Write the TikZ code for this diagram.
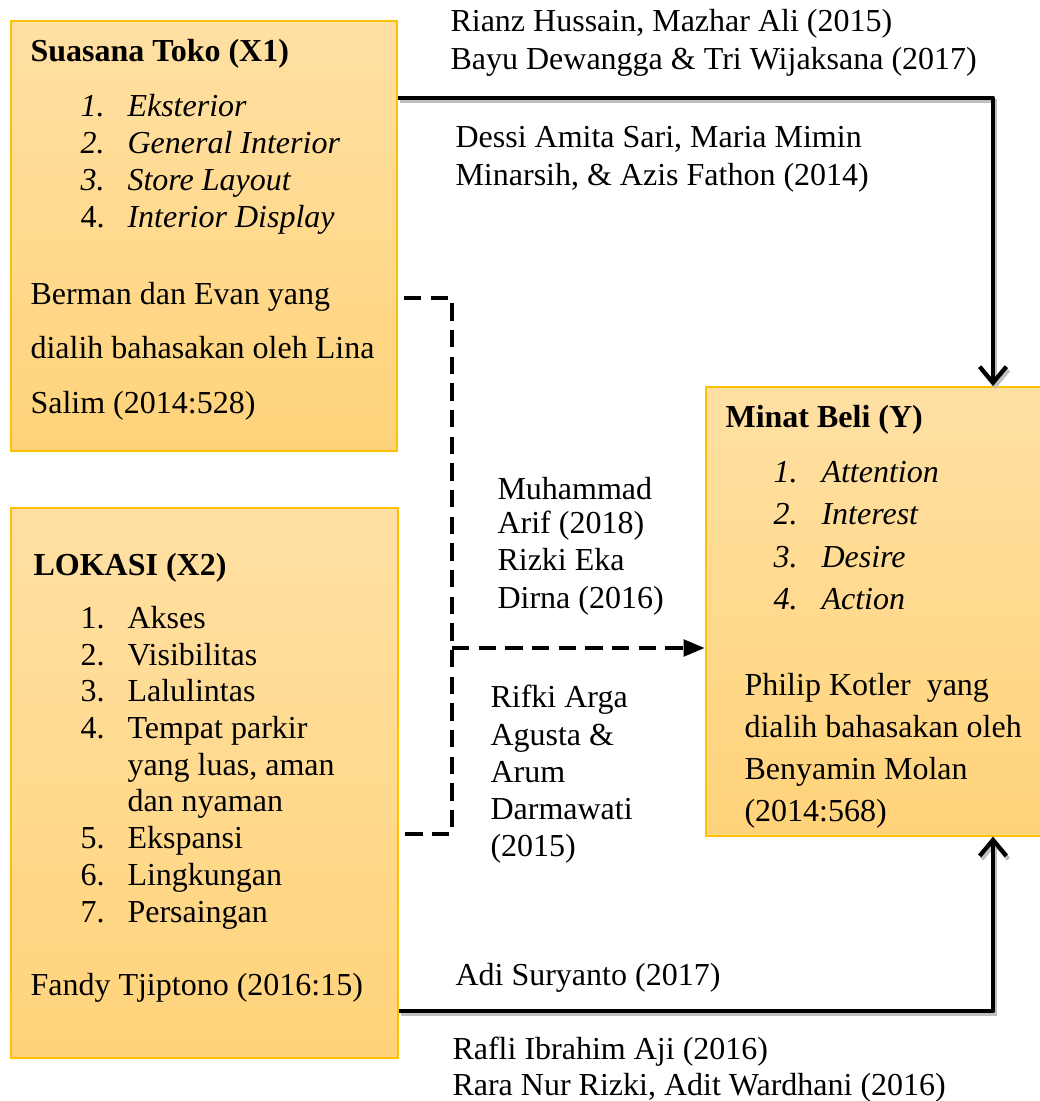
\documentclass[tikz,border=0pt]{standalone}
\usepackage{fontspec}
\setmainfont{Liberation Serif}
\usetikzlibrary{arrows.meta}
\definecolor{boxtop}{RGB}{255,224,163}
\definecolor{boxbot}{RGB}{255,211,122}
\definecolor{boxline}{RGB}{255,192,0}
\begin{document}
\begin{tikzpicture}[x=0.375pt,y=-0.375pt,
    every node/.style={inner sep=0pt,font=\fontsize{12}{14}\selectfont},
    txt/.style={anchor=base west},
    judul/.style={anchor=base west,font=\fontsize{12}{14}\selectfont\bfseries},
    miring/.style={anchor=base west,font=\fontsize{12}{14}\selectfont\itshape},
    kotak/.style={draw=boxline,line width=0.6pt,top color=boxtop,bottom color=boxbot,anchor=north west},
    panah/.style={line width=1.6pt,line join=round,-{Straight Barb[length=6pt,width=10pt,line width=1.6pt]},
        preaction={draw=black!25,line width=1.6pt,transform canvas={xshift=0.8pt,yshift=-1.2pt}}},
    putus/.style={line width=1.8pt,dash pattern=on 6.5pt off 3.5pt}]
    \useasboundingbox (0,0) rectangle (1040,1101);
    % kotak
    \node[kotak,minimum width=144.75pt,minimum height=161.25pt] (x1) at (10,20) {};
    \node[kotak,minimum width=145.125pt,minimum height=206.25pt] (x2) at (10,507) {};
    \node[kotak,minimum width=127.5pt,minimum height=168.375pt] (y) at (705,386) {};
    % isi X1
    \node[judul] (x1t) at (30,62) {Suasana Toko (X1)};
    \node[miring] (x1n1) at (80,117) {1.};
    \node[miring] (x1i1) at (127,117) {Eksterior};
    \node[miring] (x1n2) at (80,154) {2.};
    \node[miring] (x1i2) at (127,154) {General Interior};
    \node[miring] (x1n3) at (80,191) {3.};
    \node[miring] (x1i3) at (127,191) {Store Layout};
    \node[txt] (x1n4) at (80,228) {4.};
    \node[miring] (x1i4) at (127,228) {Interior Display};
    \node[txt] (x1s1) at (30,305) {Berman dan Evan yang};
    \node[txt] (x1s2) at (30,359) {dialih bahasakan oleh Lina};
    \node[txt] (x1s3) at (30,414) {Salim (2014:528)};
    % isi X2
    \node[judul] (x2t) at (33,575) {LOKASI (X2)};
    \node[txt] (x2n1) at (80,628) {1.};
    \node[txt] (x2i1) at (127,628) {Akses};
    \node[txt] (x2n2) at (80,665) {2.};
    \node[txt] (x2i2) at (127,665) {Visibilitas};
    \node[txt] (x2n3) at (80,701) {3.};
    \node[txt] (x2i3) at (127,701) {Lalulintas};
    \node[txt] (x2n4) at (80,738) {4.};
    \node[txt] (x2i4) at (127,738) {Tempat parkir};
    \node[txt] (x2i4b) at (127,775) {yang luas, aman};
    \node[txt] (x2i4c) at (127,811) {dan nyaman};
    \node[txt] (x2n5) at (80,848) {5.};
    \node[txt] (x2i5) at (127,848) {Ekspansi};
    \node[txt] (x2n6) at (80,885) {6.};
    \node[txt] (x2i6) at (127,885) {Lingkungan};
    \node[txt] (x2n7) at (80,922) {7.};
    \node[txt] (x2i7) at (127,922) {Persaingan};
    \node[txt] (x2s) at (30,995) {Fandy Tjiptono (2016:15)};
    % isi Y
    \node[judul] (yt) at (725,427) {Minat Beli (Y)};
    \node[miring] (yn1) at (773,482) {1.};
    \node[miring] (yi1) at (821,482) {Attention};
    \node[miring] (yn2) at (773,524) {2.};
    \node[miring] (yi2) at (821,524) {Interest};
    \node[miring] (yn3) at (773,567) {3.};
    \node[miring] (yi3) at (821,567) {Desire};
    \node[miring] (yn4) at (773,609) {4.};
    \node[miring] (yi4) at (821,609) {Action};
    \node[txt] (ys1) at (744,695) {Philip Kotler\ \ yang};
    \node[txt] (ys2) at (744,737) {dialih bahasakan oleh};
    \node[txt] (ys3) at (744,779) {Benyamin Molan};
    \node[txt] (ys4) at (744,821) {(2014:568)};
    % penghubung
    \draw[panah] (x1.east |- 0,98) -| (y.north -| 993,0);
    \draw[panah] (x2.east |- 0,1011) -| (y.south -| 993,0);
    \coordinate (ja) at (452,298);
    \coordinate (jb) at (452,834);
    \coordinate (jc) at (452,648);
    \draw[putus] (404,298) -- (ja) -- (jb) -- (400,834);
    \draw[putus,-{Triangle[length=8pt,width=6pt]}] (jc) -- (y.west |- jc);
    % sumber
    \node[txt] (r1) at (450,32) {Rianz Hussain, Mazhar Ali (2015)};
    \node[txt] (r2) at (450,70) {Bayu Dewangga \& Tri Wijaksana (2017)};
    \node[txt] (r3) at (455,148) {Dessi Amita Sari, Maria Mimin};
    \node[txt] (r4) at (455,186) {Minarsih, \& Azis Fathon (2014)};
    \node[txt] (m1) at (497,499) {Muhammad};
    \node[txt] (m2) at (497,533) {Arif (2018)};
    \node[txt] (m3) at (497,570) {Rizki Eka};
    \node[txt] (m4) at (497,608) {Dirna (2016)};
    \node[txt] (k1) at (490,707) {Rifki Arga};
    \node[txt] (k2) at (490,745) {Agusta \&};
    \node[txt] (k3) at (490,782) {Arum};
    \node[txt] (k4) at (490,819) {Darmawati};
    \node[txt] (k5) at (490,856) {(2015)};
    \node[txt] (a1) at (455,985) {Adi Suryanto (2017)};
    \node[txt] (a2) at (452,1059) {Rafli Ibrahim Aji (2016)};
    \node[txt] (a3) at (452,1095) {Rara Nur Rizki, Adit Wardhani (2016)};
\end{tikzpicture}
\end{document}
